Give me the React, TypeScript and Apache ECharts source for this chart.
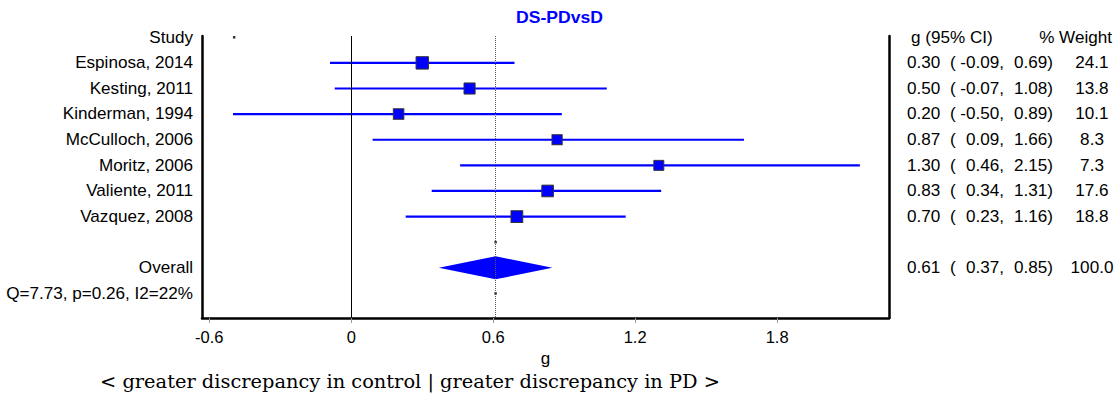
import React, { useEffect, useRef } from "react";
import * as echarts from "echarts";

const chartTitle = "DS-PDvsD";
const studies = ["Espinosa, 2014", "Kesting, 2011", "Kinderman, 1994", "McCulloch, 2006", "Moritz, 2006", "Valiente, 2011", "Vazquez, 2008"];
const studyRows = [1, 2, 3, 4, 5, 6, 7];
const gValues = [0.3, 0.5, 0.2, 0.87, 1.3, 0.83, 0.7];
const ciLower = [-0.09, -0.07, -0.5, 0.09, 0.46, 0.34, 0.23];
const ciUpper = [0.69, 1.08, 0.89, 1.66, 2.15, 1.31, 1.16];
const weights = [24.1, 13.8, 10.1, 8.3, 7.3, 17.6, 18.8];
const overallRow = 9;
const overallG = 0.61;
const overallLower = 0.37;
const overallUpper = 0.85;
const overallWeight = 100.0;
const heterogeneity = "Q=7.73, p=0.26, I2=22%";
const xTicks = [-0.6, 0, 0.6, 1.2, 1.8];
const refLines = [0, 0.61];
const tinyDots = [[-0.495, 0], [0.61, 8], [0.61, 10]];
const leftLabels = ["Study", ...studies, "Overall", heterogeneity];
const leftLabelRows = [0, ...studyRows, overallRow, 10];
const footnote = "< greater discrepancy in control | greater discrepancy in PD >";

const X_MIN = -0.631;
const X_MAX = 2.273;
const Y_MIN = -0.05;
const Y_MAX = 10.96;
const SANS = "'Liberation Sans', Arial, sans-serif";
const BLUE = "#0000ff";
const SX = 1.07;

export default function App() {
  const ref = useRef<HTMLDivElement>(null);
  useEffect(() => {
    if (!ref.current) return;
    const chart = echarts.init(ref.current, null, { renderer: "svg" });

    const txt = (text: string, x: number, y: number, align: string) => ({
      type: "text",
      x,
      y,
      scaleX: SX,
      style: { text, align, verticalAlign: "middle", fontSize: 16, fontFamily: SANS, fill: "#000" },
    });

    const tableRows = [
      ...studyRows.map((r, i) => [X_MAX, r, gValues[i], ciLower[i], ciUpper[i], weights[i]]),
      [X_MAX, overallRow, overallG, overallLower, overallUpper, overallWeight],
    ];

    const option: any = {
      animation: false,
      backgroundColor: "#fff",
      grid: { left: 202, right: 231, top: 36, bottom: 87 },
      xAxis: {
        type: "value",
        min: X_MIN,
        max: X_MAX,
        name: "g",
        nameLocation: "middle",
        nameGap: 30,
        nameTextStyle: { fontSize: 17, color: "#000", fontFamily: SANS },
        axisLine: { show: true, onZero: false, lineStyle: { color: "#000", width: 2.5 } },
        axisTick: { show: true, customValues: xTicks, length: 5, lineStyle: { color: "#999" } },
        axisLabel: {
          customValues: xTicks,
          fontSize: 16.5,
          color: "#000",
          fontFamily: SANS,
          margin: 10,
          formatter: (v: number) => String(v),
        },
        splitLine: { show: false },
      },
      yAxis: [
        {
          type: "value",
          min: Y_MIN,
          max: Y_MAX,
          inverse: true,
          axisLine: { show: true, onZero: false, lineStyle: { color: "#000", width: 2.5 } },
          axisTick: { show: false },
          axisLabel: { show: false },
          splitLine: { show: false },
        },
        {
          type: "value",
          position: "right",
          min: Y_MIN,
          max: Y_MAX,
          inverse: true,
          axisLine: { show: true, onZero: false, lineStyle: { color: "#000", width: 2.5 } },
          axisTick: { show: false },
          axisLabel: { show: false },
          splitLine: { show: false },
        },
      ],
      graphic: [
        {
          type: "text",
          x: 559.5,
          y: 18,
          scaleX: 1.1,
          style: { text: chartTitle, align: "center", verticalAlign: "middle", fontSize: 16, fontWeight: "bold", fontFamily: SANS, fill: BLUE },
        },
        {
          type: "text",
          x: 100,
          y: 381,
          style: { text: footnote, align: "left", verticalAlign: "middle", fontSize: 19.4, fontFamily: "'DejaVu Serif', serif", fill: "#000" },
        },
      ],
      series: [
        {
          type: "custom",
          name: "ci",
          clip: false,
          z: 2,
          data: studyRows.map((r, i) => [ciLower[i], ciUpper[i], r]),
          encode: { x: [0, 1], y: 2 },
          renderItem: (params: any, api: any) => {
            const a = api.coord([api.value(0), api.value(2)]);
            const b = api.coord([api.value(1), api.value(2)]);
            return {
              type: "line",
              shape: { x1: a[0], y1: a[1], x2: b[0], y2: b[1] },
              style: { stroke: BLUE, lineWidth: 2.2 },
            };
          },
          markLine: {
            silent: true,
            symbol: "none",
            label: { show: false },
            data: [
              { xAxis: refLines[0], lineStyle: { color: "#000", width: 1, type: "solid" } },
              { xAxis: refLines[1], lineStyle: { color: "#555", width: 1, type: [1, 1] } },
            ],
          },
        },
        {
          type: "scatter",
          name: "squares",
          z: 3,
          symbol: "rect",
          data: studyRows.map((r, i) => [gValues[i], r, weights[i]]),
          symbolSize: (val: number[]) => 7 + 1.1 * Math.sqrt(val[2]),
          itemStyle: { color: BLUE, borderColor: "#333", borderWidth: 1, opacity: 1 },
        },
        {
          type: "custom",
          name: "diamond",
          clip: false,
          z: 3,
          data: [[overallG, overallLower, overallUpper, overallRow]],
          encode: { x: [0, 1, 2], y: 3 },
          renderItem: (params: any, api: any) => {
            const row = api.value(3);
            const pts = [
              api.coord([api.value(1), row]),
              api.coord([api.value(0), row - 0.45]),
              api.coord([api.value(2), row]),
              api.coord([api.value(0), row + 0.45]),
            ];
            return { type: "polygon", shape: { points: pts }, style: { fill: BLUE } };
          },
        },
        {
          type: "scatter",
          name: "dots",
          z: 4,
          symbol: "rect",
          symbolSize: 2.5,
          data: tinyDots,
          itemStyle: { color: "#000" },
        },
        {
          type: "custom",
          name: "leftLabels",
          clip: false,
          data: leftLabelRows.map((r) => [X_MIN, r]),
          encode: { x: 0, y: 1 },
          renderItem: (params: any, api: any) => {
            const p = api.coord([api.value(0), api.value(1)]);
            return txt(leftLabels[params.dataIndex], p[0] - 9, p[1], "right");
          },
        },
        {
          type: "custom",
          name: "tableHeader",
          clip: false,
          data: [[X_MAX, 0]],
          encode: { x: 0, y: 1 },
          renderItem: (params: any, api: any) => {
            const p = api.coord([api.value(0), api.value(1)]);
            return {
              type: "group",
              children: [txt("g (95% CI)", p[0] + 22, p[1], "left"), txt("% Weight", p[0] + 223, p[1], "right")],
            };
          },
        },
        {
          type: "custom",
          name: "table",
          clip: false,
          data: tableRows,
          encode: { x: 0, y: 1 },
          renderItem: (params: any, api: any) => {
            const p = api.coord([api.value(0), api.value(1)]);
            const x0 = p[0];
            const y = p[1];
            return {
              type: "group",
              children: [
                txt(api.value(2).toFixed(2), x0 + 18, y, "left"),
                txt("(", x0 + 61, y, "left"),
                txt(api.value(3).toFixed(2) + ",", x0 + 115, y, "right"),
                txt(api.value(4).toFixed(2) + ")", x0 + 164, y, "right"),
                txt(api.value(5).toFixed(1), x0 + 203, y, "center"),
              ],
            };
          },
        },
      ],
    };
    chart.setOption(option);
    return () => chart.dispose();
  }, []);
  return (
    <div
      ref={ref}
      style={{ position: "absolute", left: 0, top: 0, width: 1120, height: 405, background: "#fff" }}
    />
  );
}
